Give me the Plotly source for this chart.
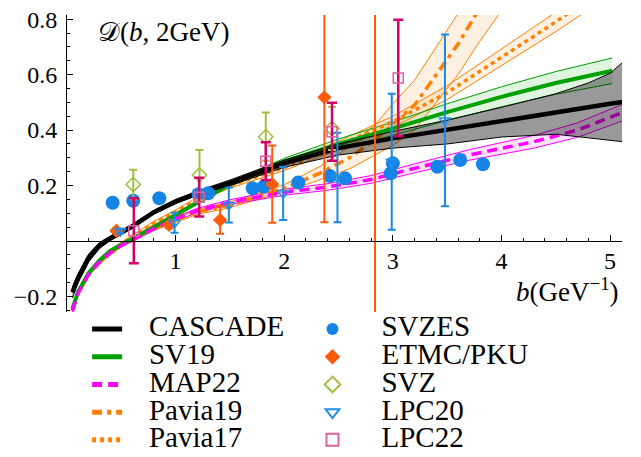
import plotly.graph_objects as go

FONT = "Liberation Serif"

# ---------------- data ----------------
# CASCADE (central + band)
b_cas = [0.05, 0.1, 0.2, 0.3, 0.4, 0.5, 0.6, 0.8, 1.0, 1.2, 1.5, 2.0, 2.5, 3.0, 3.5, 4.0, 4.5, 4.8, 5.0, 5.12]
d_cas = [-0.185, -0.135, -0.06, -0.015, 0.01, 0.032, 0.052, 0.104, 0.142, 0.172, 0.21, 0.28, 0.335, 0.37, 0.40, 0.43, 0.462, 0.482, 0.495, 0.502]
d_cas_lo = [-0.205, -0.152, -0.075, -0.027, 0.002, 0.024, 0.045, 0.097, 0.135, 0.165, 0.2, 0.266, 0.31, 0.335, 0.35, 0.375, 0.385, 0.372, 0.362, 0.358]
d_cas_hi = [-0.165, -0.12, -0.047, -0.005, 0.018, 0.04, 0.06, 0.111, 0.15, 0.18, 0.22, 0.292, 0.35, 0.395, 0.436, 0.482, 0.531, 0.57, 0.605, 0.646]

# SV19
b_sv19 = [0.05, 0.1, 0.2, 0.3, 0.4, 0.5, 0.6, 0.8, 1.0, 1.2, 1.5, 2.0, 2.5, 3.0, 3.5, 4.0, 4.5, 5.02]
d_sv19 = [-0.245, -0.185, -0.115, -0.07, -0.035, -0.012, 0.008, 0.05, 0.095, 0.14, 0.205, 0.286, 0.35, 0.405, 0.465, 0.52, 0.57, 0.614]
w_sv19 = [0.003, 0.003, 0.003, 0.003, 0.003, 0.003, 0.004, 0.004, 0.005, 0.006, 0.008, 0.012, 0.018, 0.024, 0.03, 0.036, 0.041, 0.046]

# MAP22
b_map = [0.05, 0.1, 0.2, 0.3, 0.4, 0.5, 0.6, 0.8, 1.0, 1.2, 1.5, 2.0, 2.4, 2.8, 3.2, 3.7, 4.3, 4.7, 5.12]
d_map = [-0.252, -0.19, -0.12, -0.075, -0.042, -0.016, 0.003, 0.045, 0.08, 0.11, 0.14, 0.176, 0.195, 0.222, 0.262, 0.31, 0.358, 0.4, 0.464]
w_map = [0.004, 0.004, 0.004, 0.004, 0.004, 0.005, 0.005, 0.006, 0.007, 0.008, 0.009, 0.011, 0.012, 0.014, 0.016, 0.019, 0.023, 0.026, 0.03]

# Pavia19
b_p19 = [0.05, 0.1, 0.2, 0.3, 0.4, 0.5, 0.6, 0.8, 1.0, 1.2, 1.5, 1.7, 2.0, 2.33, 2.6, 2.85, 3.0, 3.2, 3.4, 3.6, 3.8, 4.0]
d_p19 = [-0.25, -0.19, -0.12, -0.078, -0.045, -0.015, 0.008, 0.045, 0.075, 0.105, 0.13, 0.155, 0.19, 0.245, 0.3, 0.37, 0.42, 0.49, 0.6, 0.71, 0.84, 0.96]
w_p19 = [0.005, 0.005, 0.005, 0.005, 0.006, 0.006, 0.006, 0.007, 0.008, 0.009, 0.01, 0.011, 0.013, 0.024, 0.04, 0.055, 0.075, 0.09, 0.1, 0.11, 0.12, 0.13]

# Pavia17
b_p17 = [0.05, 0.1, 0.2, 0.3, 0.4, 0.5, 0.6, 0.8, 1.0, 1.2, 1.5, 2.0, 2.5, 3.0, 3.5, 4.0, 4.5, 4.9]
d_p17 = [-0.245, -0.185, -0.115, -0.075, -0.04, -0.01, 0.015, 0.065, 0.105, 0.15, 0.2, 0.265, 0.345, 0.43, 0.535, 0.662, 0.79, 0.9]
w_p17 = [0.004, 0.004, 0.004, 0.004, 0.004, 0.005, 0.005, 0.006, 0.007, 0.008, 0.009, 0.011, 0.015, 0.02, 0.025, 0.03, 0.035, 0.04]

# Lattice / extraction points
b_svzes = [0.42, 0.61, 0.85, 1.21, 1.30, 1.71, 1.81, 2.13, 2.42, 2.56, 2.98, 3.00, 3.41, 3.62, 3.83]
d_svzes = [0.138, 0.145, 0.154, 0.169, 0.172, 0.19, 0.196, 0.211, 0.234, 0.226, 0.244, 0.28, 0.268, 0.292, 0.277]

b_etmc = [0.455, 0.94, 1.41, 1.89, 2.37, 2.836]
d_etmc = [0.037, 0.058, 0.076, 0.205, 0.518, 0.95]
e_etmc = [0.008, 0.01, 0.05, 0.139, 0.45, 1.25]

b_svz = [0.61, 1.22, 1.83, 2.44]
d_svz = [0.204, 0.238, 0.376, 0.406]
e_svz = [0.053, 0.09, 0.087, 0.078]

b_lpc20 = [0.49, 0.99, 1.49, 1.99, 2.49, 2.99, 3.48]
d_lpc20 = [0.036, 0.066, 0.13, 0.172, 0.229, 0.286, 0.435]
e_lpc20 = [0.008, 0.036, 0.063, 0.096, 0.161, 0.245, 0.31]

b_lpc22 = [0.615, 1.217, 1.83, 2.44, 3.05]
d_lpc22 = [0.037, 0.158, 0.288, 0.394, 0.588]
e_lpc22 = [0.117, 0.07, 0.068, 0.105, 0.21]

x_ticks = [1, 2, 3, 4, 5]
y_ticks = [-0.2, 0.2, 0.4, 0.6, 0.8]
y_ticktext = ["\u22120.2", "0.2", "0.4", "0.6", "0.8"]

# ---------------- figure ----------------
fig = go.Figure()

def band(x, lo, hi, edge, fill):
    fig.add_trace(go.Scatter(x=x, y=lo, mode="lines", line=dict(color=edge, width=1),
                             showlegend=False, hoverinfo="skip"))
    fig.add_trace(go.Scatter(x=x, y=hi, mode="lines", line=dict(color=edge, width=1),
                             fill="tonexty", fillcolor=fill, showlegend=False, hoverinfo="skip"))

def pm(c, w, s):
    return [a + s * b for a, b in zip(c, w)]

def lab(s):
    return '<span style="font-size:29px">&nbsp;&nbsp;&nbsp;' + s + '</span>'

def lab2(s):
    return '<span style="font-size:29px">&nbsp;&nbsp;&nbsp;&nbsp;' + s + '</span>'

ORANGE = "#ff8000"
band(b_p19, pm(d_p19, w_p19, -1), pm(d_p19, w_p19, 1), ORANGE, "rgba(255,140,30,0.13)")
band(b_p17, pm(d_p17, w_p17, -1), pm(d_p17, w_p17, 1), ORANGE, "rgba(255,140,30,0.13)")
band(b_sv19, pm(d_sv19, w_sv19, -1), pm(d_sv19, w_sv19, 1), "#00a000", "rgba(0,170,0,0.12)")
band(b_map, pm(d_map, w_map, -1), pm(d_map, w_map, 1), "#ff00ff", "rgba(255,0,255,0.12)")

fig.add_trace(go.Scatter(x=b_p19, y=d_p19, mode="lines", name=lab("Pavia19"), legend="legend", legendrank=4,
                         line=dict(color=ORANGE, width=3.5, dash="10px,5px,4px,5px")))
fig.add_trace(go.Scatter(x=b_p17, y=d_p17, mode="lines", name=lab("Pavia17"), legend="legend", legendrank=5,
                         line=dict(color=ORANGE, width=3.5, dash="4px,4px")))
fig.add_trace(go.Scatter(x=b_sv19, y=d_sv19, mode="lines", name=lab("SV19"), legend="legend", legendrank=2,
                         line=dict(color="#00a000", width=4)))
fig.add_trace(go.Scatter(x=b_map, y=d_map, mode="lines", name=lab("MAP22"), legend="legend", legendrank=3,
                         line=dict(color="#ff00ff", width=3.5, dash="10px,6px")))

# CASCADE band drawn on top (semi-transparent black)
fig.add_trace(go.Scatter(x=b_cas, y=d_cas_lo, mode="lines", line=dict(color="black", width=1),
                         showlegend=False, hoverinfo="skip"))
fig.add_trace(go.Scatter(x=b_cas, y=d_cas_hi, mode="lines", line=dict(color="black", width=1),
                         fill="tonexty", fillcolor="rgba(0,0,0,0.4)", showlegend=False, hoverinfo="skip"))
fig.add_trace(go.Scatter(x=b_cas, y=d_cas, mode="lines", name=lab("CASCADE"), legend="legend", legendrank=1,
                         line=dict(color="black", width=4.5)))

# points
fig.add_trace(go.Scatter(x=b_svzes, y=d_svzes, mode="markers", name=lab2("SVZES"), legend="legend2",
                         marker=dict(symbol="circle", size=14, color="#1484e6")))
fig.add_trace(go.Scatter(x=b_etmc, y=d_etmc, mode="markers", name=lab2("ETMC/PKU"), legend="legend2",
                         marker=dict(symbol="diamond", size=11, color="#ff5a0a"),
                         error_y=dict(type="data", array=e_etmc, color="#ff5a0a", thickness=2, width=4)))
fig.add_trace(go.Scatter(x=b_svz, y=d_svz, mode="markers", name=lab2("SVZ"), legend="legend2",
                         marker=dict(symbol="diamond-open", size=11, color="#a0c040", line=dict(width=1.5)),
                         error_y=dict(type="data", array=e_svz, color="#a0c040", thickness=2, width=4)))
fig.add_trace(go.Scatter(x=b_lpc20, y=d_lpc20, mode="markers", name=lab2("LPC20"), legend="legend2",
                         marker=dict(symbol="triangle-down-open", size=10, color="#2090e8", line=dict(width=1.5)),
                         error_y=dict(type="data", array=e_lpc20, color="#1a88e8", thickness=2, width=4)))
fig.add_trace(go.Scatter(x=b_lpc22, y=d_lpc22, mode="markers", name=lab2("LPC22"), legend="legend2",
                         marker=dict(symbol="square-open", size=10, color="#e060a0", line=dict(width=1.5)),
                         error_y=dict(type="data", array=e_lpc22, color="#d8006a", thickness=2.5, width=5)))

ymin, ymax = -0.256, 0.815
xpos = (0 - ymin) / (ymax - ymin)

fig.update_layout(
    width=633, height=449,
    margin=dict(l=59, r=19, t=7, b=145, autoexpand=False),
    paper_bgcolor="white", plot_bgcolor="white",
    font=dict(family=FONT, size=23, color="black"),
    xaxis=dict(range=[0, 5.11], anchor="free", position=xpos, showline=True, linecolor="black",
               linewidth=1, ticks="inside", ticklen=6, tickcolor="black", tickvals=x_ticks,
               showgrid=False, zeroline=False, ticklabelstandoff=-2, automargin=False,
               ticklabeloverflow="allow", tickfont=dict(family=FONT, size=24),
               minor=dict(dtick=0.2, tick0=0, ticks="inside", ticklen=3, tickcolor="black")),
    yaxis=dict(range=[ymin, ymax], showline=True, linecolor="black", linewidth=1,
               ticks="inside", ticklen=6, tickcolor="black", tickvals=y_ticks, ticktext=y_ticktext,
               showgrid=False, zeroline=False, ticklabelstandoff=4, automargin=False,
               ticklabeloverflow="allow", tickfont=dict(family=FONT, size=24),
               minor=dict(dtick=0.05, tick0=0, ticks="inside", ticklen=3, tickcolor="black")),
    legend=dict(x=0.125, y=0.327, xref="container", yref="container", xanchor="left", yanchor="top",
                bgcolor="rgba(0,0,0,0)", font=dict(family=FONT, size=19), traceorder="normal",
                itemsizing="constant"),
    legend2=dict(x=0.481, y=0.327, xref="container", yref="container", xanchor="left", yanchor="top",
                 bgcolor="rgba(0,0,0,0)", font=dict(family=FONT, size=19), traceorder="normal",
                 itemsizing="constant"),
    annotations=[
        dict(x=0.27, y=0.752, xref="x", yref="y", xanchor="left", yanchor="middle", showarrow=False,
             text="\U0001D49F(<i>b</i>, 2GeV)", font=dict(family=FONT, size=27)),
        dict(x=5.1, y=-0.178, xref="x", yref="y", xanchor="right", yanchor="middle", showarrow=False,
             text="<i>b</i>(GeV<sup>\u22121</sup>)", font=dict(family=FONT, size=27)),
    ],
)

fig.write_html("out.html")
